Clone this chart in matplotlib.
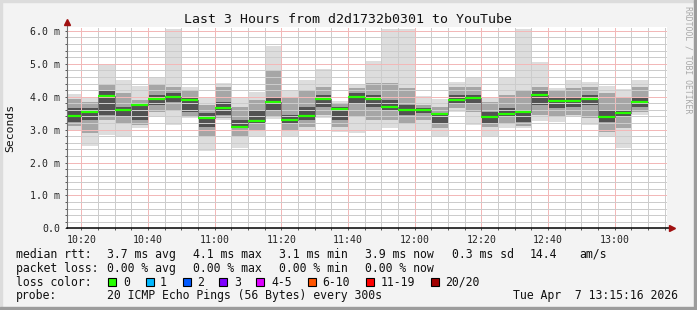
import numpy as np
import pandas as pd
import matplotlib
matplotlib.use("Agg")
import matplotlib.pyplot as plt
import matplotlib.dates as mdates
from matplotlib.patches import Rectangle
from matplotlib.ticker import MultipleLocator, FuncFormatter

W, H = 697, 310

# each bar is one 5 min probe round, drawn over the 5 min before its end time
bar_end = pd.date_range("2026-04-07 10:20", "2026-04-07 13:10", freq="5min")

# values in ms
median_ms = [3.42, 3.54, 4.02, 3.60, 3.75, 3.93, 3.99, 3.90, 3.35, 3.66,
             3.08, 3.26, 3.84, 3.29, 3.42, 3.93, 3.63, 3.99, 3.93, 3.69,
             3.60, 3.60, 3.48, 3.90, 3.96, 3.39, 3.48, 3.54, 4.05, 3.87,
             3.87, 3.93, 3.39, 3.51, 3.84]
max_ms = [4.08, 4.00, 4.99, 4.51, 4.33, 4.59, 6.06, 4.29, 3.95, 4.43,
          3.97, 4.13, 5.55, 4.21, 4.51, 4.84, 3.87, 4.36, 5.10, 6.05,
          6.05, 4.02, 3.93, 4.46, 4.56, 4.00, 4.56, 6.06, 5.04, 4.26,
          4.51, 4.44, 4.33, 4.23, 4.51]
hi_light = [3.92, 3.85, 4.39, 4.10, 3.90, 4.36, 4.31, 4.21, 3.75, 4.31,
            3.70, 3.90, 4.81, 3.95, 4.21, 4.31, 3.80, 4.26, 4.41, 4.41,
            4.26, 3.75, 3.70, 4.31, 4.31, 3.85, 4.05, 4.21, 4.31, 4.16,
            4.26, 4.31, 4.10, 4.00, 4.31]
hi_dark = [3.65, 3.65, 4.16, 3.70, 3.80, 4.05, 4.10, 4.00, 3.50, 3.85,
           3.29, 3.60, 4.00, 3.45, 3.70, 4.05, 3.70, 4.10, 4.05, 3.90,
           3.75, 3.65, 3.50, 4.05, 4.05, 3.55, 3.65, 3.60, 4.16, 3.95,
           3.95, 4.05, 3.60, 3.60, 3.95]
lo_dark = [3.24, 3.29, 3.45, 3.40, 3.29, 3.75, 3.85, 3.55, 3.09, 3.45,
           3.04, 3.19, 3.60, 3.19, 3.29, 3.70, 3.29, 3.80, 3.70, 3.60,
           3.45, 3.50, 3.19, 3.80, 3.80, 3.19, 3.40, 3.24, 3.75, 3.65,
           3.70, 3.75, 3.24, 3.40, 3.70]
lo_light = [3.11, 2.89, 3.29, 3.19, 3.14, 3.55, 3.60, 3.40, 2.79, 3.34,
            2.79, 2.99, 3.40, 2.99, 3.09, 3.45, 3.09, 3.40, 3.29, 3.29,
            3.19, 3.29, 3.04, 3.65, 3.55, 3.09, 3.19, 3.11, 3.45, 3.40,
            3.45, 3.34, 2.94, 3.04, 3.55]
min_ms = [2.97, 2.50, 2.84, 2.79, 3.04, 3.40, 3.14, 3.34, 2.36, 3.29,
          2.43, 2.79, 3.32, 2.77, 2.99, 3.34, 2.94, 2.89, 2.97, 3.04,
          2.99, 2.99, 2.79, 3.55, 3.14, 2.79, 3.06, 3.04, 3.27, 3.24,
          3.38, 3.14, 2.79, 2.45, 3.45]

loss_labels = ["0", "1", "2", "3", "4-5", "6-10", "11-19", "20/20"]
loss_colors = ["#26ff00", "#00b8ff", "#0059ff", "#7e00ff", "#dd00ff",
               "#ff5500", "#ff0000", "#a10000"]
loss_box_x = [108, 146, 183, 219, 256, 308, 366, 431]
loss_text_x = [123, 160, 197, 234, 271, 322, 381, 445]

fig = plt.figure(figsize=(W / 100, H / 100), dpi=100, facecolor="#f3f3f3")
mono = "DejaVu Sans Mono"

def fx(px):
    return px / W

def fy(py):
    return 1 - py / H

# bevelled frame like rrdtool
fig.patches.append(Rectangle((0, 0), fx(2), 1, transform=fig.transFigure, color="#dcdcdc", zorder=0))
fig.patches.append(Rectangle((0, fy(2)), 1, 2 / H, transform=fig.transFigure, color="#dcdcdc", zorder=0))
fig.patches.append(Rectangle((fx(W - 3), 0), fx(3), 1, transform=fig.transFigure, color="#9c9c9c", zorder=0))
fig.patches.append(Rectangle((0, 0), 1, 3 / H, transform=fig.transFigure, color="#9c9c9c", zorder=0))

ax = fig.add_axes([fx(66.7), fy(228.3), fx(600), 201 / H])
ax.set_facecolor("white")

ends = mdates.date2num(bar_end.to_pydatetime())
step = 5 / 1440
starts = ends - step
med = np.array(median_ms)

layers = [(min_ms, max_ms, "#dddddd"), (lo_light, hi_light, "#a6a6a6"), (lo_dark, hi_dark, "#525252")]
for lo, hi, col in layers:
    lo = np.array(lo)
    hi = np.array(hi)
    ax.bar(starts, hi - lo, bottom=lo, width=step, align="edge", color=col, linewidth=0, zorder=1)

# median step line with dotted dark connectors, green median segments on top
ax.step(np.append(starts, ends[-1]), np.append(med, med[-1]), where="post",
        color="#303030", lw=0.72, ls=(0, (1, 1)), zorder=3)
ax.hlines(med, starts, ends, color=loss_colors[0], lw=1.6, zorder=4)

x0 = mdates.date2num(pd.Timestamp("2026-04-07 10:15:36"))
x1 = mdates.date2num(pd.Timestamp("2026-04-07 13:15:36"))
ax.set_xlim(x0, x1)
ax.set_ylim(0, 6.11)

ax.xaxis.set_major_locator(mdates.MinuteLocator(byminute=[0, 20, 40]))
ax.xaxis.set_minor_locator(mdates.MinuteLocator(byminute=range(0, 60, 5)))
ax.xaxis.set_major_formatter(mdates.DateFormatter("%H:%M"))
ax.yaxis.set_major_locator(MultipleLocator(1.0))
ax.yaxis.set_minor_locator(MultipleLocator(0.2))
ax.yaxis.set_major_formatter(FuncFormatter(lambda v, _: "0.0" if abs(v) < 1e-9 else "%.1f m" % v))

ax.set_axisbelow(False)
ax.grid(which="major", color="#f2b8b8", lw=0.72, ls=(0, (1, 1)), zorder=2.5, antialiased=False)
ax.grid(which="minor", color="#cccccc", lw=0.72, ls=(0, (1, 1)), zorder=2.4, antialiased=False)

ax.tick_params(which="both", direction="out", length=1.6, width=0.7, color="#555555",
               labelsize=7.1, labelcolor="#222222", pad=3.2)
for lab in ax.get_xticklabels() + ax.get_yticklabels():
    lab.set_family(mono)

for s in ax.spines.values():
    s.set_visible(False)

# axes with arrow heads
ax.plot([0, 0], [0, 1.02], transform=ax.transAxes, color="#707070", lw=0.8, clip_on=False, zorder=5)
ax.plot([0, 1.006], [0, 0], transform=ax.transAxes, color="black", lw=1.1, clip_on=False, zorder=5)
ax.plot([0], [1.025], transform=ax.transAxes, marker="^", ms=4, color="#a01010", clip_on=False, zorder=6)
ax.plot([1.008], [0], transform=ax.transAxes, marker=">", ms=4, color="#a01010", clip_on=False, zorder=6)

fig.text(fx(348), fy(19.3), "Last 3 Hours from d2d1732b0301 to YouTube", ha="center", va="center",
         family=mono, fontsize=9.5, color="#111111")
fig.text(fx(10), fy(128), "Seconds", rotation=90, ha="center", va="center",
         family=mono, fontsize=8.2, color="#111111")
fig.text(fx(688), fy(60), "RRDTOOL / TOBI OETIKER", rotation=270, ha="center", va="center",
         family=mono, fontsize=5.9, color="#a8a8a8")

fs = 8.3
rows = [
    (254.3, [(16, "median rtt:"), (107.3, "3.7 ms avg"), (192.7, "4.1 ms max"), (279.3, "3.1 ms min"),
             (365, "3.9 ms now"), (451.7, "0.3 ms sd"), (530, "14.4"), (579.3, "am/s")]),
    (268.3, [(16, "packet loss:"), (107.3, "0.00 % avg"), (193.3, "0.00 % max"), (279.3, "0.00 % min"),
             (365, "0.00 % now")]),
    (282.3, [(16, "loss color:")]),
    (296.0, [(16, "probe:"), (107.3, "20 ICMP Echo Pings (56 Bytes) every 300s"),
             (513.3, "Tue Apr  7 13:15:16 2026")]),
]
for y, items in rows:
    for x, t in items:
        fig.text(fx(x), fy(y), t, ha="left", va="center", family=mono, fontsize=fs, color="#111111")

for bx, tx, lab, col in zip(loss_box_x, loss_text_x, loss_labels, loss_colors):
    fig.patches.append(Rectangle((fx(bx), fy(286.3)), fx(8), 8 / H, transform=fig.transFigure,
                                 facecolor=col, edgecolor="black", lw=0.8, zorder=3))
    fig.text(fx(tx), fy(282.3), lab, ha="left", va="center", family=mono, fontsize=fs, color="#111111")

fig.savefig("out.png", dpi=100, facecolor=fig.get_facecolor())
